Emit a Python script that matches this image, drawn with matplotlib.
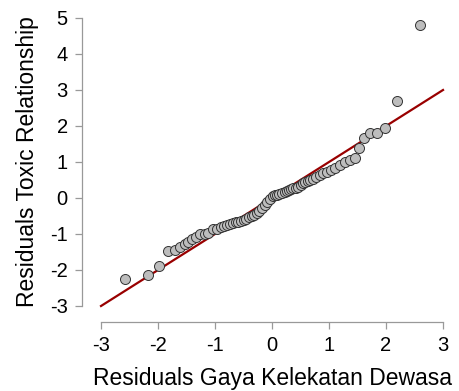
import matplotlib.pyplot as plt

# theoretical quantiles (x) and residuals (y)
x_quant = [-2.58, -2.18, -1.98, -1.83, -1.70, -1.61, -1.52, -1.47, -1.40, -1.33,
           -1.26, -1.18, -1.12, -1.03, -0.97, -0.90, -0.85, -0.79, -0.74, -0.69,
           -0.64, -0.59, -0.54, -0.50, -0.45, -0.40, -0.36, -0.31, -0.27, -0.22,
           -0.18, -0.13, -0.09, -0.04, 0.02, 0.05, 0.09, 0.13, 0.17, 0.22,
           0.26, 0.29, 0.33, 0.37, 0.42, 0.46, 0.50, 0.54, 0.58, 0.63,
           0.67, 0.72, 0.78, 0.84, 0.90, 0.96, 1.03, 1.11, 1.19, 1.28,
           1.37, 1.46, 1.53, 1.62, 1.72, 1.84, 1.98, 2.19, 2.60]
y_resid = [-2.24, -2.14, -1.88, -1.47, -1.44, -1.37, -1.28, -1.21, -1.14, -1.07,
           -1.01, -0.99, -0.96, -0.87, -0.85, -0.80, -0.78, -0.75, -0.71, -0.69,
           -0.67, -0.66, -0.63, -0.61, -0.57, -0.53, -0.50, -0.46, -0.43, -0.35,
           -0.29, -0.19, -0.10, -0.03, 0.05, 0.08, 0.09, 0.11, 0.13, 0.16,
           0.19, 0.22, 0.24, 0.27, 0.29, 0.31, 0.36, 0.41, 0.45, 0.48,
           0.50, 0.54, 0.59, 0.64, 0.69, 0.73, 0.77, 0.82, 0.92, 1.01,
           1.06, 1.12, 1.40, 1.68, 1.80, 1.81, 1.95, 2.70, 4.81]

line_ends = [-3, 3]
x_ticks = [-3, -2, -1, 0, 1, 2, 3]
y_ticks = [-3, -2, -1, 0, 1, 2, 3, 4, 5]

plt.rcParams['font.family'] = ['Liberation Sans', 'DejaVu Sans']

fig = plt.figure(figsize=(4.6, 3.91), dpi=100)
ax = fig.add_axes([0.2196, 0.2174, 0.7435, 0.7366])

ax.plot(line_ends, line_ends, color='#990000', linewidth=1.6, zorder=2, clip_on=False)
ax.scatter(x_quant, y_resid, s=52, facecolor='#bdbdbd', edgecolor='#333333',
           linewidth=0.7, zorder=3, clip_on=False)

ax.set_xlim(-3, 3)
ax.set_ylim(-3, 5)
ax.set_xticks(x_ticks)
ax.set_yticks(y_ticks)
ax.set_xticklabels([str(t) for t in x_ticks])
ax.set_yticklabels([str(t) for t in y_ticks])

for side in ['top', 'right']:
    ax.spines[side].set_visible(False)
ax.spines['left'].set_position(('outward', 14))
ax.spines['bottom'].set_position(('outward', 11.5))
for side in ['left', 'bottom']:
    ax.spines[side].set_color('#999999')
    ax.spines[side].set_linewidth(0.9)
ax.tick_params(axis='both', colors='#999999', length=5, width=0.9,
               labelsize=14.5, labelcolor='black', pad=5)

ax.set_xlabel('Residuals Gaya Kelekatan Dewasa', fontsize=16.5, labelpad=9)
ax.set_ylabel('Residuals Toxic Relationship', fontsize=16.5, labelpad=8)

fig.savefig('out.png', dpi=100)
